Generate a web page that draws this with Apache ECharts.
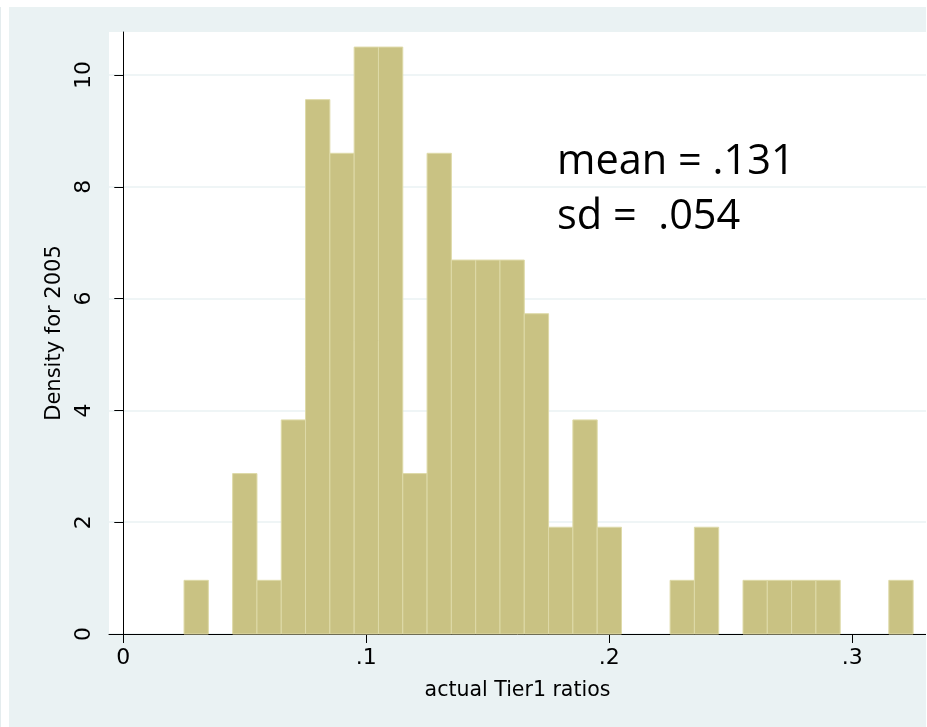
<!DOCTYPE html>
<html>
<head>
<meta charset="utf-8">
<script src="https://cdn.jsdelivr.net/npm/echarts@6/dist/echarts.min.js"></script>
<style>
  html, body { margin: 0; padding: 0; background: #ffffff; width: 927px; height: 727px; overflow: hidden; }
  #edge { position: absolute; left: 0; top: 7px; width: 1px; height: 720px; background: #e4ecee; }
  #chart { position: absolute; left: 9px; top: 7px; width: 917px; height: 720px; }
</style>
</head>
<body>
<div id="edge"></div>
<div id="chart"></div>
<script>
// ---- data ----
const binWidth = 0.01;
const binLeft = [0.025, 0.045, 0.055, 0.065, 0.075, 0.085, 0.095, 0.105, 0.115, 0.125,
                 0.135, 0.145, 0.155, 0.165, 0.175, 0.185, 0.195, 0.225, 0.235, 0.255,
                 0.265, 0.275, 0.285, 0.315];
const density = [0.96, 2.87, 0.96, 3.83, 9.56, 8.60, 10.50, 10.50, 2.87, 8.60,
                 6.69, 6.69, 6.69, 5.73, 1.91, 3.83, 1.91, 0.96, 1.91, 0.96,
                 0.96, 0.96, 0.96, 0.96];
const xTicks = [0, 0.1, 0.2, 0.3];
const xTickLabels = ['0', '.1', '.2', '.3'];
const yTicks = [0, 2, 4, 6, 8, 10];
const yTickLabels = ['0', '2', '4', '6', '8', '10'];
const xTitle = 'actual Tier1 ratios';
const yTitle = 'Density for 2005';
const statLines = ['mean = .131', 'sd =  .054'];

// ---- chart ----
const chart = echarts.init(document.getElementById('chart'), null, { renderer: 'canvas' });
const barData = binLeft.map((l, i) => [l, l + binWidth, density[i]]);
const labelFont = { fontFamily: 'DejaVu Sans', fontSize: 22, color: '#000' };

chart.setOption({
  animation: false,
  backgroundColor: '#EAF2F3',
  grid: {
    left: 100, top: 25, right: 0, bottom: 93,
    show: true, backgroundColor: '#ffffff', borderWidth: 0
  },
  xAxis: {
    type: 'value',
    min: -0.00588, max: 0.3303,
    name: xTitle, nameLocation: 'middle', nameGap: 46,
    nameTextStyle: { fontFamily: 'DejaVu Sans', fontSize: 20.5, color: '#000' },
    axisLine: { show: true, onZero: false, lineStyle: { color: '#000', width: 1 } },
    axisTick: { show: true, length: 9, customValues: xTicks, lineStyle: { color: '#000', width: 1 } },
    axisLabel: {
      customValues: xTicks, margin: 13, ...labelFont,
      formatter: v => { const i = xTicks.findIndex(t => Math.abs(t - v) < 1e-9); return i >= 0 ? xTickLabels[i] : ''; }
    },
    splitLine: { show: false }
  },
  yAxis: {
    type: 'value',
    min: 0, max: 10.77,
    name: yTitle, nameLocation: 'middle', nameGap: 44, nameRotate: 90,
    nameTextStyle: { fontFamily: 'DejaVu Sans', fontSize: 21, color: '#000' },
    axisLine: { show: true, lineStyle: { color: '#000', width: 1 } },
    axisTick: { show: true, length: 9, customValues: yTicks, lineStyle: { color: '#000', width: 1 } },
    axisLabel: {
      customValues: yTicks, rotate: 90, margin: 14, ...labelFont,
      formatter: v => { const i = yTicks.findIndex(t => Math.abs(t - v) < 1e-9); return i >= 0 ? yTickLabels[i] : ''; }
    },
    splitLine: { show: true, lineStyle: { color: '#EAF2F3', width: 1.5 } }
  },
  series: [{
    type: 'custom',
    data: barData,
    encode: { x: [0, 1], y: 2 },
    renderItem: (params, api) => {
      const p0 = api.coord([api.value(0), api.value(2)]);
      const p1 = api.coord([api.value(1), 0]);
      return {
        type: 'rect',
        shape: { x: p0[0], y: p0[1], width: p1[0] - p0[0], height: p1[1] - p0[1] },
        style: { fill: '#C9C283', stroke: '#DEDAA8', lineWidth: 1 }
      };
    }
  }],
  graphic: [
    { type: 'text', left: 548, top: 134, z: 100,
      style: { text: statLines[0], fontFamily: 'Open Sans', fontSize: 41.5, fill: '#000' } },
    { type: 'text', left: 548, top: 189, z: 100,
      style: { text: statLines[1], fontFamily: 'Open Sans', fontSize: 41.5, fill: '#000' } }
  ]
});
</script>
</body>
</html>
